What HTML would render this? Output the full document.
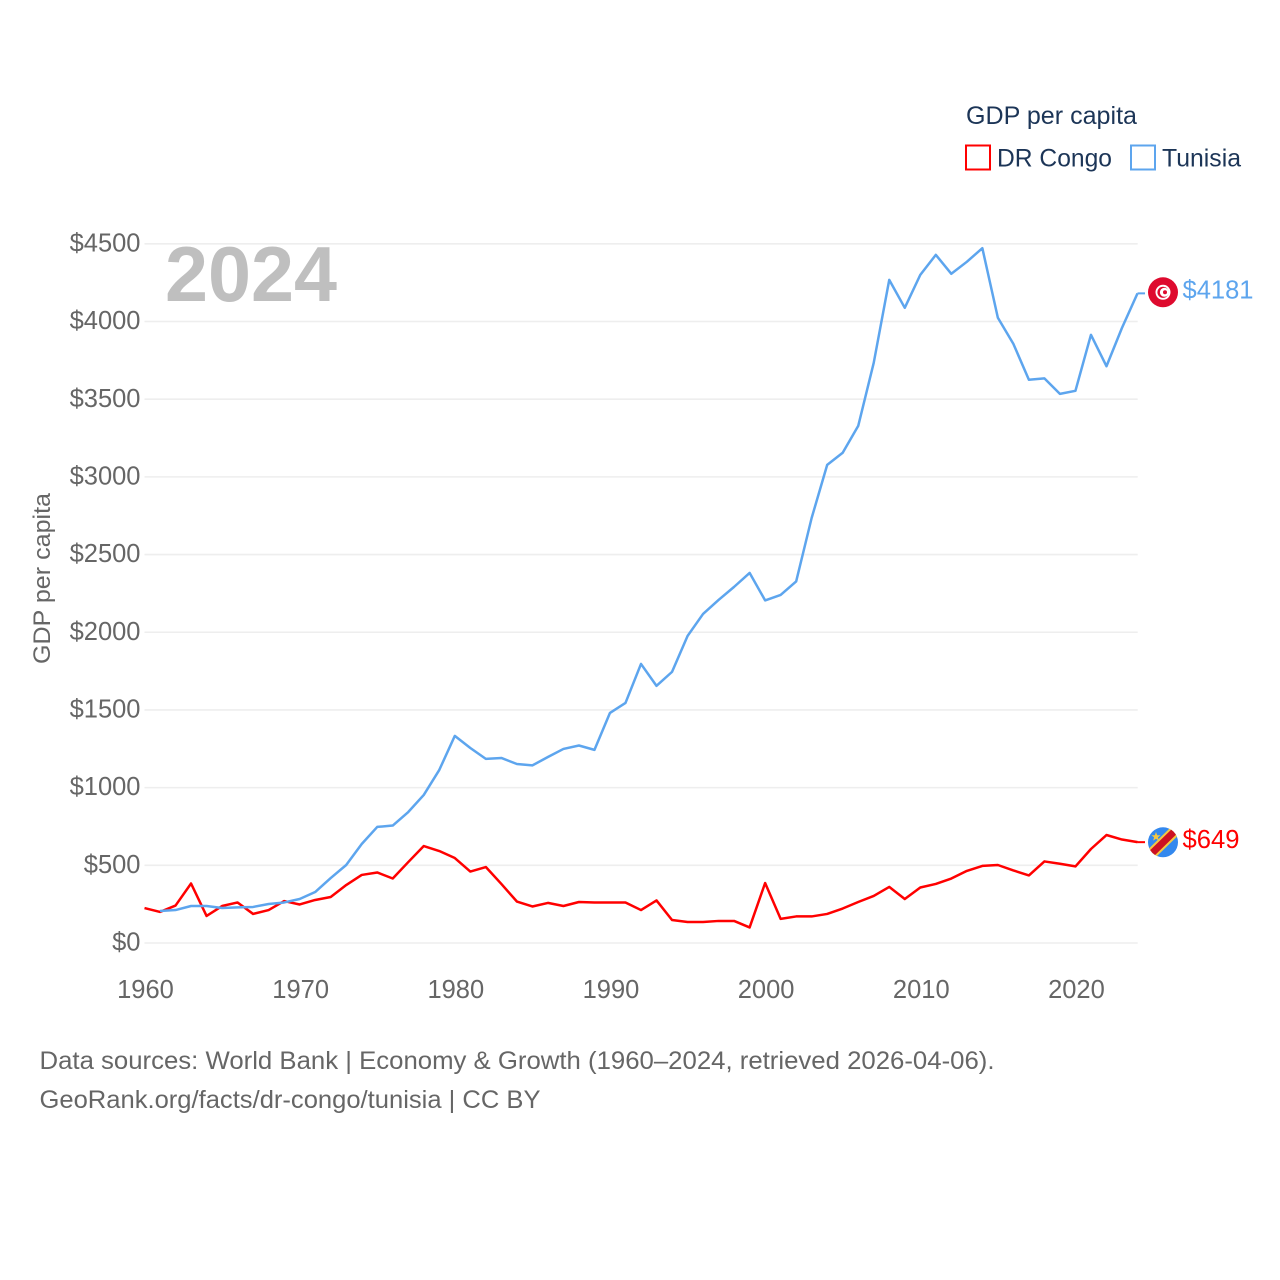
<!DOCTYPE html>
<html lang="en">
<head>
<meta charset="utf-8">
<title>GDP per capita: DR Congo and Tunisia</title>
<style>
html,body{margin:0;padding:0;background:#fff;width:1280px;height:1280px;overflow:hidden}
svg{display:block}
text{font-family:"Liberation Sans",sans-serif}
</style>
</head>
<body>
<svg id="chart" width="1280" height="1280" viewBox="0 0 1280 1280" xmlns="http://www.w3.org/2000/svg">
  <defs>
    <clipPath id="clip-tn"><circle cx="1163" cy="292.3" r="15"/></clipPath>
    <clipPath id="clip-cd"><circle cx="1163" cy="842.3" r="15"/></clipPath>
  </defs>
  <rect width="1280" height="1280" fill="#fff"/>
  <g id="grid"></g>
  <g id="yticks"></g>
  <g id="xticks"></g>
  <text transform="translate(50,578.5) rotate(-90)" text-anchor="middle" font-size="24" fill="#666" textLength="171" lengthAdjust="spacingAndGlyphs">GDP per capita</text>
  <text x="165" y="301" font-size="78" font-weight="700" fill="#bfbfbf" textLength="172" lengthAdjust="spacingAndGlyphs">2024</text>
  <g id="series"></g>

  <g clip-path="url(#clip-tn)">
    <rect x="1148" y="277" width="30" height="31" fill="#de0a2e"/>
    <circle cx="1163" cy="292.3" r="7.5" fill="#fff"/>
    <circle cx="1163" cy="292.3" r="5.6" fill="#de0a2e"/>
    <circle cx="1164.4" cy="292.3" r="4.5" fill="#fff"/>
    <circle cx="1165" cy="292.3" r="2" fill="#de0a2e"/>
  </g>
  <g clip-path="url(#clip-cd)">
    <rect x="1148" y="827" width="30" height="31" fill="#3388ee"/>
    <line x1="1145" y1="860" x2="1181" y2="825" stroke="#f5c842" stroke-width="11"/>
    <line x1="1145" y1="860" x2="1181" y2="825" stroke="#cc1122" stroke-width="7"/>
    <polygon points="1156,832 1157.2,835.2 1160.6,835.3 1157.9,837.4 1158.9,840.6 1156,838.7 1153.1,840.6 1154.1,837.4 1151.4,835.3 1154.8,835.2" fill="#f5c842"/>
  </g>
  <text x="1182.5" y="298.5" font-size="25.5" fill="#5da5ee" textLength="71" lengthAdjust="spacingAndGlyphs">$4181</text>
  <text x="1182.5" y="848" font-size="25.5" fill="#ff0000" textLength="57" lengthAdjust="spacingAndGlyphs">$649</text>

  <g>
    <text x="966" y="124" font-size="25" fill="#1c3557" textLength="171" lengthAdjust="spacingAndGlyphs">GDP per capita</text>
    <g>
      <rect x="966" y="145.5" width="24" height="24" fill="#fff" stroke="#ff0000" stroke-width="2"/>
      <text x="997" y="166.5" font-size="25" fill="#1c3557" textLength="115" lengthAdjust="spacingAndGlyphs">DR Congo</text>
    </g>
    <g>
      <rect x="1131" y="145.5" width="24" height="24" fill="#fff" stroke="#5da5ee" stroke-width="2"/>
      <text x="1162" y="166.5" font-size="25" fill="#1c3557" textLength="79" lengthAdjust="spacingAndGlyphs">Tunisia</text>
    </g>
  </g>

  <text x="39.5" y="1069" font-size="25" fill="#666" textLength="955" lengthAdjust="spacingAndGlyphs">Data sources: World Bank | Economy &amp; Growth (1960–2024, retrieved 2026-04-06).</text>
  <text x="39.5" y="1108" font-size="25" fill="#666" textLength="501" lengthAdjust="spacingAndGlyphs">GeoRank.org/facts/dr-congo/tunisia | CC BY</text>
</svg>
<script>
const yearTicks = [1960, 1970, 1980, 1990, 2000, 2010, 2020];
const valueTicks = [0, 500, 1000, 1500, 2000, 2500, 3000, 3500, 4000, 4500];
const drCongoStartYear = 1960;
const drCongoValues = [225,200,241,383,174,238,261,187,212,270,248,277,296,373,438,454,415,521,624,592,547,460,489,380,267,235,258,238,264,261,261,261,212,274,148,135,135,142,142,100,386,155,171,171,187,222,264,303,361,283,357,380,415,464,496,502,467,435,525,510,493,605,695,666,649];
const tunisiaStartYear = 1961;
const tunisiaValues = [206,212,238,238,225,229,232,251,261,283,328,418,502,637,747,756,843,953,1114,1333,1255,1185,1191,1152,1143,1197,1249,1271,1243,1481,1545,1796,1655,1745,1976,2118,2208,2292,2382,2205,2240,2327,2736,3077,3155,3328,3734,4268,4088,4300,4429,4307,4384,4472,4024,3856,3625,3634,3534,3554,3914,3712,3959,4181];

const NS = 'http://www.w3.org/2000/svg';
function xScale(year) { return 144.5 + (year - 1960) * (1137.5 - 144.5) / 64; }
function yScale(value) { return 943 - value * (943 - 243.8) / 4500; }
function make(tag, attrs, parent) {
  const el = document.createElementNS(NS, tag);
  for (const k in attrs) el.setAttribute(k, attrs[k]);
  parent.appendChild(el);
  return el;
}

const grid = document.getElementById('grid');
const yticks = document.getElementById('yticks');
const xticks = document.getElementById('xticks');
const series = document.getElementById('series');

valueTicks.forEach(function (v) {
  const line = make('line', {x1: 144.5, x2: 1137.7, y1: yScale(v), y2: yScale(v), stroke: '#eeeeee', 'stroke-width': 1.6}, grid);
  
  
  const label = make('text', {x: 140.5, y: yScale(v) + 7.6, 'text-anchor': 'end', 'font-size': 25.5, fill: '#666'}, yticks);
  label.textContent = '$' + v;
  
  
});

yearTicks.forEach(function (y) {
  const label = make('text', {x: xScale(y) + 1, y: 998, 'text-anchor': 'middle', 'font-size': 25.5, fill: '#666'}, xticks);
  label.textContent = String(y);
  
  
});

function linePoints(startYear, values) {
  return values.map(function (v, i) { return xScale(startYear + i).toFixed(2) + ',' + yScale(v).toFixed(2); });
}

const congoLine = make('polyline', {points: linePoints(drCongoStartYear, drCongoValues).join(' '), fill: 'none', stroke: '#ff0000', 'stroke-width': 2.5, 'stroke-linejoin': 'round'}, series);



const tunisiaLine = make('polyline', {points: linePoints(tunisiaStartYear, tunisiaValues).join(' '), fill: 'none', stroke: '#5da5ee', 'stroke-width': 2.5, 'stroke-linejoin': 'round'}, series);



const congoLast = drCongoValues[drCongoValues.length - 1];
const congoConnector = make('line', {x1: xScale(2024), x2: 1145, y1: yScale(congoLast), y2: yScale(congoLast), stroke: '#ff0000', 'stroke-width': 2}, series);



const tunisiaLast = tunisiaValues[tunisiaValues.length - 1];
const tunisiaConnector = make('line', {x1: xScale(2024), x2: 1145, y1: yScale(tunisiaLast), y2: yScale(tunisiaLast), stroke: '#5da5ee', 'stroke-width': 2}, series);


</script>
</body>
</html>
